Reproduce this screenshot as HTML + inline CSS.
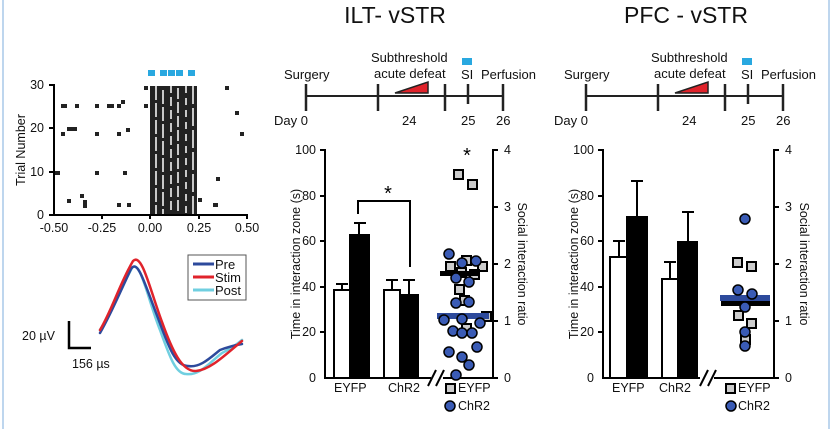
<!DOCTYPE html>
<html><head><meta charset="utf-8"><style>
html,body{margin:0;padding:0;background:#fff}
svg{display:block;font-family:"Liberation Sans",Arial,sans-serif}
</style></head><body>
<svg width="832" height="429" viewBox="0 0 832 429" xmlns="http://www.w3.org/2000/svg">
<rect x="0" y="0" width="832" height="429" fill="#fff"/>
<line x1="3" y1="0" x2="3" y2="429" stroke="#a9c8e8" stroke-width="1.5"/>
<line x1="829" y1="0" x2="829" y2="429" stroke="#a9c8e8" stroke-width="1.5"/>

<!-- Raster -->
<g fill="#222">
<rect x="148" y="70" width="7" height="6" fill="#29a8e0"/>
<rect x="160" y="70" width="7" height="6" fill="#29a8e0"/>
<rect x="168" y="70" width="7" height="6" fill="#29a8e0"/>
<rect x="176" y="70" width="7" height="6" fill="#29a8e0"/>
<rect x="188" y="70" width="7" height="6" fill="#29a8e0"/>
<rect x="150" y="86" width="47" height="128"/>
</g>
<g stroke="#fff" stroke-width="1.5" stroke-dasharray="14 3">
<line x1="156" y1="86" x2="156" y2="214"/>
<line x1="163" y1="90" x2="163" y2="214"/>
<line x1="171" y1="84" x2="171" y2="214" stroke-dasharray="9 4"/>
<line x1="178" y1="88" x2="178" y2="214" stroke-dasharray="11 3"/>
<line x1="186" y1="86" x2="186" y2="214" stroke-dasharray="7 5"/>
<line x1="193" y1="86" x2="193" y2="214" stroke-dasharray="18 4"/>
</g>
<g fill="#222">
<rect x="144" y="86" width="4" height="4"/><rect x="225" y="86" width="4" height="4"/>
<rect x="61" y="104" width="6" height="4"/><rect x="75" y="104" width="4" height="4"/><rect x="95" y="104" width="4" height="4"/>
<rect x="107" y="104" width="7" height="4"/><rect x="117" y="104" width="4" height="4"/><rect x="121" y="100" width="4" height="4"/><rect x="144" y="104" width="4" height="4"/>
<rect x="67" y="127" width="10" height="4"/><rect x="126" y="128" width="4" height="4"/><rect x="95" y="132" width="4" height="4"/><rect x="117" y="132" width="4" height="4"/>
<rect x="61" y="132" width="4" height="4"/><rect x="240" y="132" width="4" height="4"/><rect x="235" y="111" width="4" height="4"/>
<rect x="55" y="171" width="5" height="4"/><rect x="95" y="171" width="4" height="4"/><rect x="123" y="171" width="4" height="4"/>
<rect x="216" y="177" width="4" height="4"/><rect x="67" y="199" width="4" height="4"/><rect x="80" y="194" width="4" height="4"/>
<rect x="83" y="200" width="4" height="8"/><rect x="117" y="203" width="4" height="4"/><rect x="127" y="203" width="4" height="4"/>
<rect x="198" y="198" width="4" height="4"/><rect x="213" y="203" width="5" height="4"/>
</g>
<g stroke="#000" stroke-width="2" fill="none">
<line x1="54" y1="84" x2="54" y2="216"/>
<line x1="53" y1="215" x2="248" y2="215"/>
<line x1="49" y1="85" x2="54" y2="85"/><line x1="49" y1="128" x2="54" y2="128"/><line x1="49" y1="172" x2="54" y2="172"/><line x1="49" y1="215" x2="54" y2="215"/>
<line x1="102" y1="215" x2="102" y2="219"/><line x1="150" y1="215" x2="150" y2="219"/><line x1="199" y1="215" x2="199" y2="219"/><line x1="247" y1="215" x2="247" y2="219"/>
</g>
<g font-size="12.5" fill="#111">
<text x="44" y="89" text-anchor="end">30</text><text x="44" y="132" text-anchor="end">20</text>
<text x="44" y="176" text-anchor="end">10</text><text x="44" y="219" text-anchor="end">0</text>
<text x="54" y="232" text-anchor="middle">-0.50</text><text x="102" y="232" text-anchor="middle">-0.25</text>
<text x="150" y="232" text-anchor="middle">0.00</text><text x="199" y="232" text-anchor="middle">0.25</text><text x="247" y="232" text-anchor="middle">0.50</text>
<text transform="translate(25,150) rotate(-90)" text-anchor="middle">Trial Number</text>
</g>

<!-- Waveforms -->
<g fill="none" stroke-width="2.5" stroke-linecap="round">
<path d="M100,330 C112,312 120,290 132,268 C140,258 148,300 160,330 C170,358 176,374 186,374 C200,376 210,362 222,353 C230,349 236,345 242,340" stroke="#70cfe0"/>
<path d="M100,333 C112,312 120,292 131,269 C138,258 145,285 158,318 C168,345 175,366 188,366 C200,368 210,358 220,350 C228,347 236,345 242,344" stroke="#2d4a9c"/>
<path d="M100,330 C112,310 120,283 133,261 C142,252 150,290 162,322 C172,350 182,372 196,371 C210,370 225,355 242,341" stroke="#e0232b"/>
</g>
<rect x="188" y="255" width="58" height="45" fill="#fff" stroke="#555" stroke-width="1"/>
<g stroke-width="3"><line x1="193" y1="264" x2="214" y2="264" stroke="#2d4a9c"/><line x1="193" y1="277" x2="214" y2="277" stroke="#e0232b"/><line x1="193" y1="290" x2="214" y2="290" stroke="#70cfe0"/></g>
<g font-size="13" fill="#111"><text x="215" y="269">Pre</text><text x="215" y="282">Stim</text><text x="215" y="295">Post</text></g>
<path d="M69,321 V348 H91" fill="none" stroke="#000" stroke-width="2.5"/>
<g font-size="12.5" fill="#111"><text x="22" y="340">20 µV</text><text x="72" y="368">156 µs</text></g>

<!-- Titles -->
<g font-size="23" fill="#111" text-anchor="middle"><text x="395" y="23">ILT- vSTR</text><text x="686" y="23">PFC - vSTR</text></g>

<!-- Timelines -->
<g id="tl">
<line x1="306" y1="96" x2="503" y2="96" stroke="#222" stroke-width="2"/>
<g stroke="#222" stroke-width="2.5"><line x1="306" y1="84" x2="306" y2="111"/><line x1="378" y1="84" x2="378" y2="111"/><line x1="445" y1="84" x2="445" y2="111"/><line x1="468" y1="84" x2="468" y2="104"/><line x1="503" y1="84" x2="503" y2="111"/></g>
<polygon points="395,93 428,93 428,82" fill="#e0232b" stroke="#222" stroke-width="1.5"/>
<rect x="462" y="58" width="10" height="7" fill="#29a8e0"/>
<g font-size="13" fill="#111"><text x="284" y="79">Surgery</text><text x="371" y="62">Subthreshold</text><text x="374" y="78">acute defeat</text>
<text x="461" y="79">SI</text><text x="481" y="79">Perfusion</text>
<text x="274" y="125">Day 0</text><text x="402" y="125">24</text><text x="461" y="125">25</text><text x="496" y="125">26</text></g>
</g>
<use href="#tl" transform="translate(280,0)"/>

<!-- ILT chart -->
<g fill="#fff" stroke="#000" stroke-width="2">
<rect x="334" y="290" width="16" height="88"/><rect x="350" y="235" width="19" height="143" fill="#000"/>
<rect x="384" y="290" width="16" height="88"/><rect x="400" y="295" width="18" height="83" fill="#000"/>
</g>
<g stroke="#000" stroke-width="2" fill="none">
<path d="M342,290 V284 M336,284 H348"/><path d="M359,235 V223 M354,223 H366"/>
<path d="M392,290 V280 M386,280 H398"/><path d="M409,295 V280 M403,280 H415"/>
<path d="M358,214 V201 H410 V267"/>
<line x1="325" y1="149" x2="325" y2="379"/><line x1="493" y1="149" x2="493" y2="379"/>
<line x1="324" y1="378" x2="431" y2="378"/><line x1="443" y1="378" x2="498" y2="378"/>
<line x1="428" y1="386" x2="436" y2="370"/><line x1="436" y1="386" x2="444" y2="370"/>
<line x1="320" y1="150" x2="325" y2="150"/><line x1="320" y1="196" x2="325" y2="196"/><line x1="320" y1="241" x2="325" y2="241"/><line x1="320" y1="287" x2="325" y2="287"/><line x1="320" y1="332" x2="325" y2="332"/>
<line x1="493" y1="150" x2="498" y2="150"/><line x1="493" y1="207" x2="498" y2="207"/><line x1="493" y1="264" x2="498" y2="264"/><line x1="493" y1="321" x2="498" y2="321"/>
</g>
<text x="388" y="200" font-size="20" text-anchor="middle">*</text>
<text x="467" y="162" font-size="20" text-anchor="middle">*</text>
<g font-size="12.5" fill="#111" text-anchor="end">
<text x="316" y="154">100</text><text x="316" y="200">80</text><text x="316" y="245">60</text><text x="316" y="291">40</text><text x="316" y="336">20</text><text x="316" y="382">0</text>
</g>
<g font-size="12.5" fill="#111"><text x="504" y="154">4</text><text x="504" y="211">3</text><text x="504" y="268">2</text><text x="504" y="325">1</text><text x="504" y="382">0</text>
<text x="334" y="392">EYFP</text><text x="388" y="392">ChR2</text>
<text transform="translate(300,264) rotate(-90)" text-anchor="middle">Time in interaction zone (s)</text>
<text transform="translate(518,264) rotate(90)" text-anchor="middle">Social interaction ratio</text>
<text x="458" y="392">EYFP</text><text x="458" y="410">ChR2</text></g>
<g fill="#ccc" stroke="#000" stroke-width="2">
<rect x="446" y="384" width="9" height="9"/>
<rect x="454" y="170" width="9" height="9"/><rect x="468" y="180" width="9" height="9"/>
<rect x="446" y="262" width="9" height="9"/><rect x="462" y="256" width="9" height="9"/><rect x="478" y="262" width="9" height="9"/>
<rect x="457" y="268" width="9" height="9"/><rect x="470" y="270" width="9" height="9"/><rect x="455" y="285" width="9" height="9"/>
<rect x="460" y="296" width="9" height="9"/><rect x="482" y="312" width="9" height="9"/><rect x="462" y="324" width="9" height="9"/>
</g>
<rect x="440" y="271" width="40" height="5" fill="#000"/>
<rect x="437" y="313" width="52" height="6" fill="#2d4a9c"/>
<g fill="#3a5bb5" stroke="#000" stroke-width="1.5">
<circle cx="450" cy="406" r="5"/>
<circle cx="449" cy="254" r="5"/><circle cx="462" cy="263" r="5"/><circle cx="476" cy="261" r="5"/><circle cx="456" cy="278" r="5"/><circle cx="469" cy="282" r="5"/>
<circle cx="456" cy="303" r="5"/><circle cx="469" cy="302" r="5"/><circle cx="444" cy="320" r="5"/><circle cx="462" cy="319" r="5"/><circle cx="480" cy="323" r="5"/>
<circle cx="453" cy="331" r="5"/><circle cx="462" cy="333" r="5"/><circle cx="472" cy="333" r="5"/><circle cx="477" cy="347" r="5"/><circle cx="449" cy="352" r="5"/>
<circle cx="462" cy="357" r="5"/><circle cx="469" cy="365" r="5"/><circle cx="456" cy="375" r="5"/>
</g>

<!-- PFC chart -->
<g fill="#fff" stroke="#000" stroke-width="2">
<rect x="610" y="257" width="17" height="121"/><rect x="627" y="217" width="20" height="161" fill="#000"/>
<rect x="662" y="279" width="16" height="99"/><rect x="678" y="242" width="19" height="136" fill="#000"/>
</g>
<g stroke="#000" stroke-width="2" fill="none">
<path d="M619,257 V241 M613,241 H625"/><path d="M637,217 V181 M631,181 H643"/>
<path d="M670,279 V262 M664,262 H676"/><path d="M688,242 V212 M682,212 H694"/>
<line x1="603" y1="149" x2="603" y2="379"/><line x1="774" y1="149" x2="774" y2="379"/>
<line x1="602" y1="378" x2="700" y2="378"/><line x1="714" y1="378" x2="779" y2="378"/>
<line x1="700" y1="386" x2="708" y2="370"/><line x1="708" y1="386" x2="716" y2="370"/>
<line x1="598" y1="150" x2="603" y2="150"/><line x1="598" y1="196" x2="603" y2="196"/><line x1="598" y1="241" x2="603" y2="241"/><line x1="598" y1="287" x2="603" y2="287"/><line x1="598" y1="332" x2="603" y2="332"/>
<line x1="774" y1="150" x2="779" y2="150"/><line x1="774" y1="207" x2="779" y2="207"/><line x1="774" y1="264" x2="779" y2="264"/><line x1="774" y1="321" x2="779" y2="321"/>
</g>
<g font-size="12.5" fill="#111" text-anchor="end">
<text x="594" y="154">100</text><text x="594" y="200">80</text><text x="594" y="245">60</text><text x="594" y="291">40</text><text x="594" y="336">20</text><text x="594" y="382">0</text>
</g>
<g font-size="12.5" fill="#111"><text x="785" y="154">4</text><text x="785" y="211">3</text><text x="785" y="268">2</text><text x="785" y="325">1</text><text x="785" y="382">0</text>
<text x="612" y="392">EYFP</text><text x="659" y="392">ChR2</text>
<text transform="translate(578,264) rotate(-90)" text-anchor="middle">Time in interaction zone (s)</text>
<text transform="translate(800,264) rotate(90)" text-anchor="middle">Social interaction ratio</text>
<text x="738" y="392">EYFP</text><text x="738" y="410">ChR2</text></g>
<rect x="720" y="295" width="50" height="6" fill="#2d4a9c"/>
<rect x="721" y="301" width="49" height="5" fill="#000"/>
<g fill="#ccc" stroke="#000" stroke-width="2">
<rect x="726" y="384" width="9" height="9"/>
<rect x="733" y="258" width="9" height="9"/><rect x="747" y="262" width="9" height="9"/><rect x="734" y="311" width="9" height="9"/>
<rect x="747" y="319" width="9" height="9"/><rect x="741" y="335" width="9" height="9"/>
</g>
<g fill="#3a5bb5" stroke="#000" stroke-width="1.5">
<circle cx="731" cy="406" r="5"/>
<circle cx="745" cy="219" r="5"/><circle cx="738" cy="290" r="5"/><circle cx="752" cy="294" r="5"/><circle cx="745" cy="307" r="5"/>
<circle cx="745" cy="332" r="5"/><circle cx="745" cy="346" r="5"/>
</g>
</svg>
</body></html>
